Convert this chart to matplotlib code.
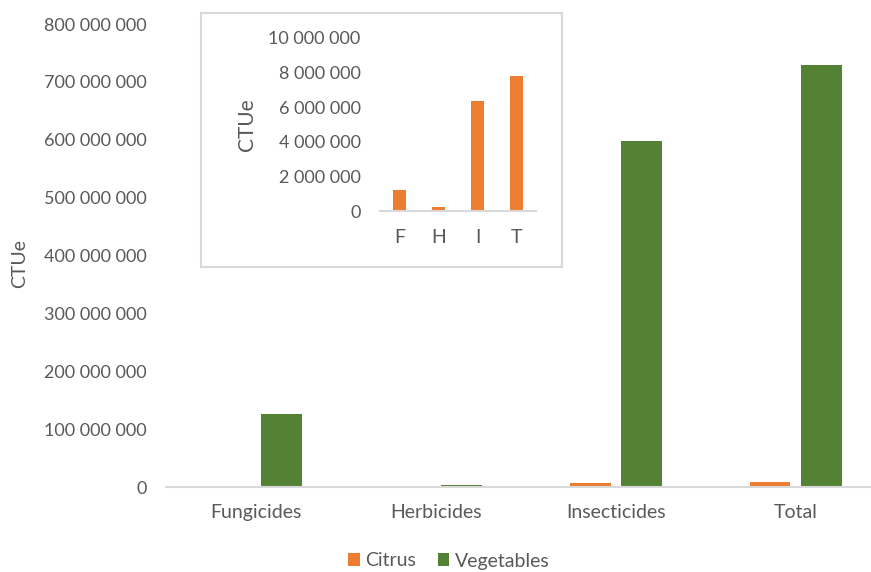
import matplotlib
matplotlib.use("Agg")
import matplotlib.pyplot as plt
import numpy as np
from matplotlib.patches import Rectangle
from matplotlib.ticker import FuncFormatter

# Data (CTUe)
categories = ["Fungicides", "Herbicides", "Insecticides", "Total"]
citrus = [1_200_000, 220_000, 6_370_000, 7_790_000]
vegetables = [126_000_000, 3_500_000, 598_000_000, 729_000_000]

inset_labels = ["F", "H", "I", "T"]
inset_citrus = citrus

ORANGE = "#ED7D31"
GREEN = "#548235"
TEXT = "#595959"
LINE = "#D9D9D9"

plt.rcParams["font.family"] = ["Lato", "DejaVu Sans"]
plt.rcParams["font.size"] = 13


def spaced(v, _pos=None):
    return f"{int(round(v)):,}".replace(",", " ")


fig = plt.figure(figsize=(8.71, 5.72), dpi=100)

# Main chart
ax = fig.add_axes([0.1906, 0.1486, 0.8266, 0.8094])
x = np.arange(len(categories))
w = 0.225
off = 0.143
ax.bar(x - off, citrus, w, color=ORANGE, label="Citrus")
ax.bar(x + off, vegetables, w, color=GREEN, label="Vegetables")
ax.set_xlim(-0.5, len(categories) - 0.5)
ax.set_ylim(0, 800_000_000)
ax.set_yticks(np.arange(0, 800_000_001, 100_000_000))
ax.yaxis.set_major_formatter(FuncFormatter(spaced))
ax.set_xticks(x)
ax.set_xticklabels(categories, fontsize=14)
for s in ["top", "right", "left"]:
    ax.spines[s].set_visible(False)
ax.spines["bottom"].set_color(LINE)
ax.spines["bottom"].set_linewidth(1.5)
ax.tick_params(axis="both", length=0, colors=TEXT)
ax.tick_params(axis="y", pad=14, labelsize=13)
ax.tick_params(axis="x", pad=12)
fig.text(20 / 871, 1 - 264 / 572, "CTUe", rotation=90, color=TEXT,
         fontsize=14, ha="center", va="center")

# Inset frame
fig.patches.append(Rectangle((201 / 871, 1 - 267 / 572), (562 - 201) / 871,
                             (267 - 13) / 572, transform=fig.transFigure,
                             facecolor="white", edgecolor=LINE, linewidth=1.5,
                             zorder=5))

# Inset chart
ins = fig.add_axes([380 / 871, 1 - 211 / 572, 156 / 871, 173 / 572], zorder=6)
ins.patch.set_alpha(0)
xi = np.arange(len(inset_labels))
ins.bar(xi, inset_citrus, 0.31, color=ORANGE)
ins.set_xlim(-0.5, len(inset_labels) - 0.5)
ins.set_ylim(0, 10_000_000)
ins.set_yticks(np.arange(0, 10_000_001, 2_000_000))
ins.yaxis.set_major_formatter(FuncFormatter(spaced))
ins.set_xticks(xi)
ins.set_xticklabels(inset_labels, fontsize=14)
for s in ["top", "right", "left"]:
    ins.spines[s].set_visible(False)
ins.spines["bottom"].set_color(LINE)
ins.spines["bottom"].set_linewidth(1.5)
ins.tick_params(axis="both", length=0, colors=TEXT)
ins.tick_params(axis="y", pad=14, labelsize=13)
ins.tick_params(axis="x", pad=13)
fig.text(247 / 871, 1 - 125 / 572, "CTUe", rotation=90, color=TEXT,
         fontsize=15, ha="center", va="center", zorder=7)

# Legend
leg = fig.legend(loc="center", bbox_to_anchor=(449 / 871, 1 - 561 / 572),
                 ncol=2, frameon=False, handlelength=0.6, handleheight=0.6,
                 handletextpad=0.3, columnspacing=1.1, fontsize=14)
for t in leg.get_texts():
    t.set_color(TEXT)

fig.savefig("out.png", dpi=100)
